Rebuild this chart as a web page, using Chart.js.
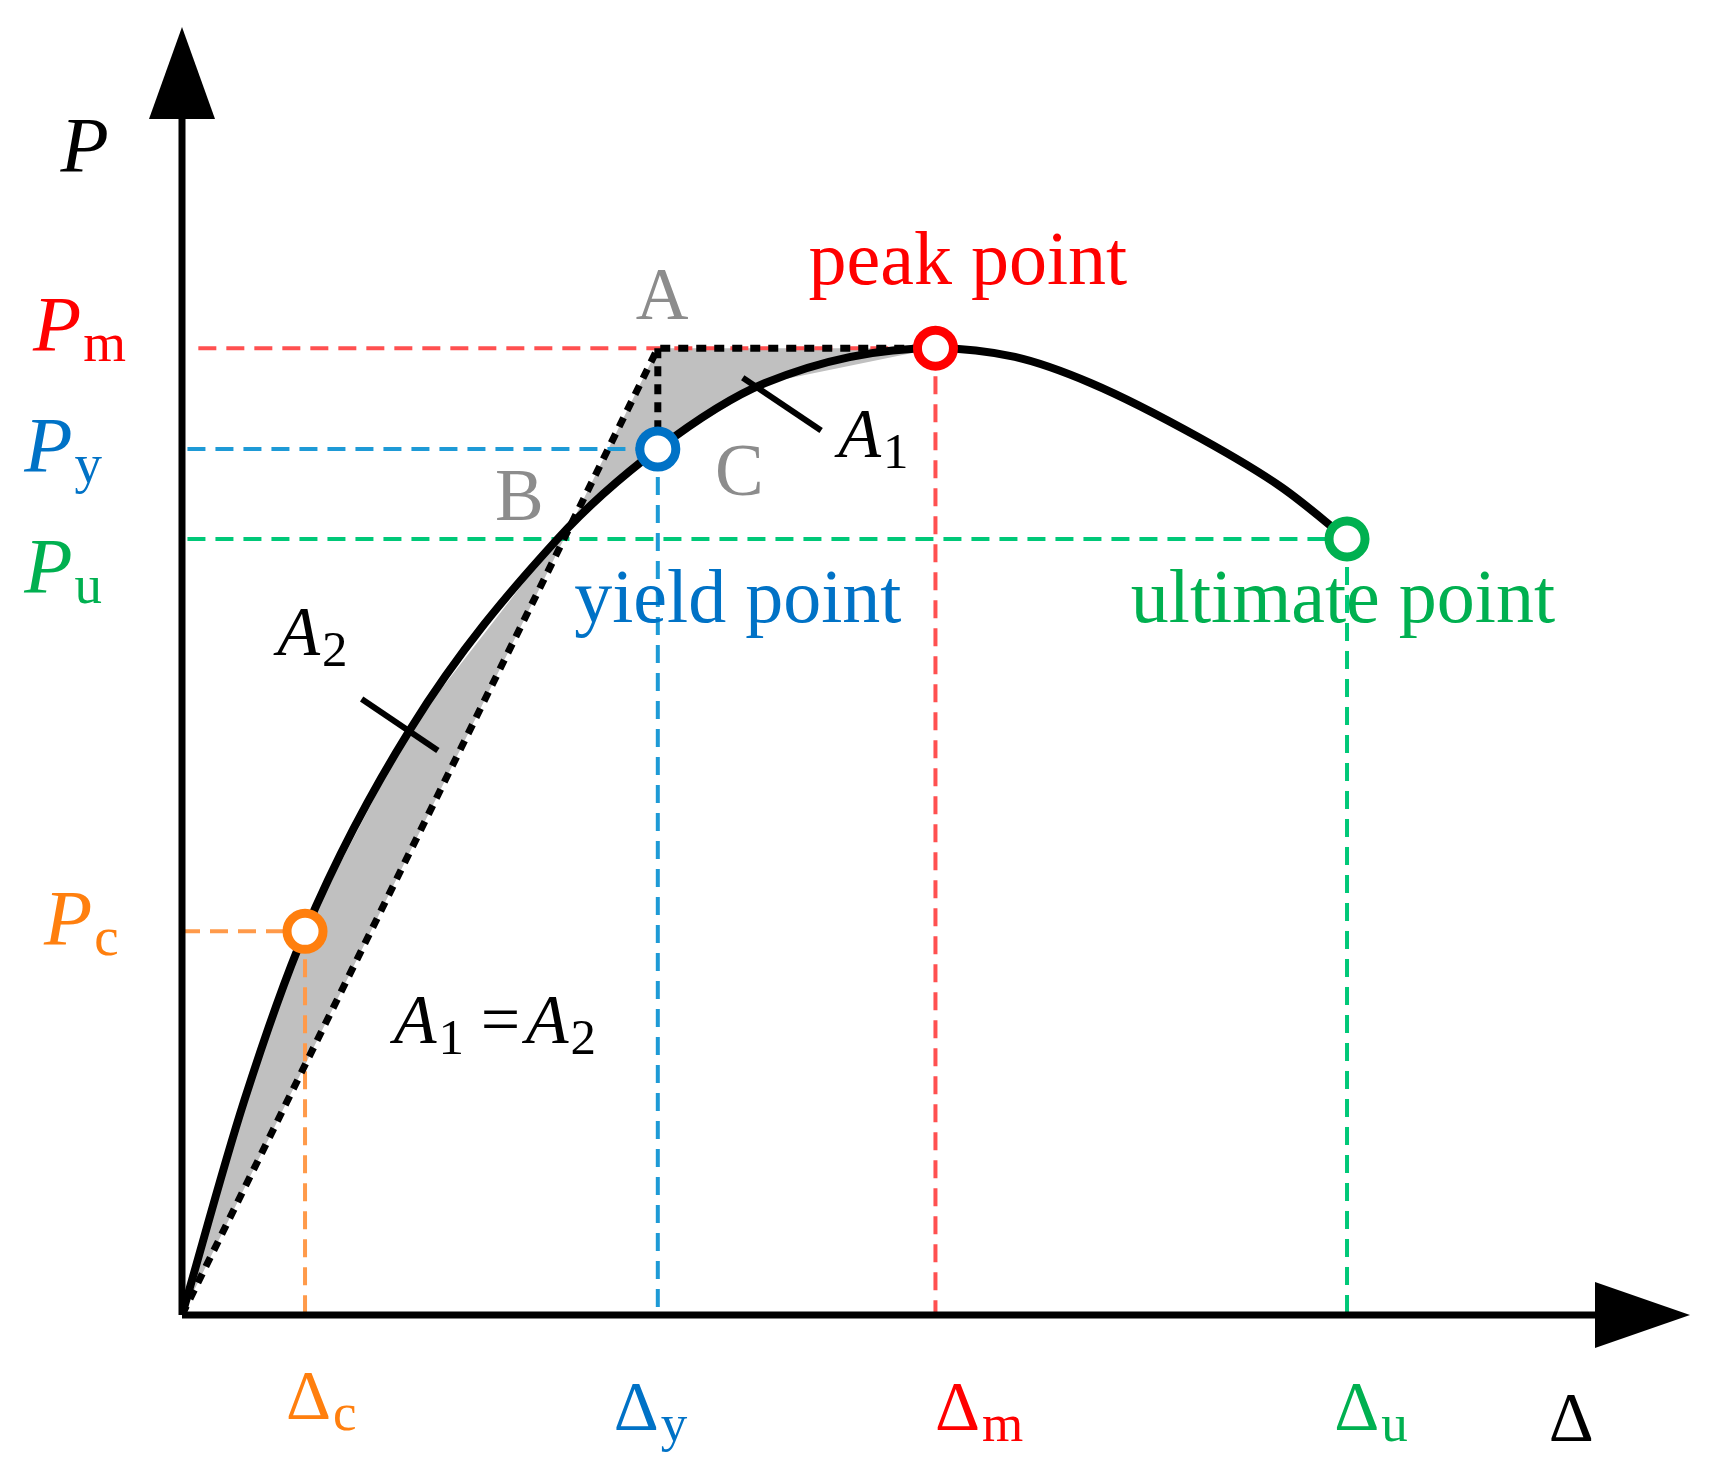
<!DOCTYPE html>
<html>
<head>
<script src="https://cdn.jsdelivr.net/npm/chart.js@4.4.0/dist/chart.umd.min.js"></script>
<style>
  body { margin: 0; background: #fff; }
  #wrap { width: 1717px; height: 1468px; }
</style>
</head>
<body>
<div id="wrap"><canvas id="myChart" width="1717" height="1468"></canvas></div>
<script>
// displacement / load values (arbitrary units)
var curveX = [0, 57, 113, 210, 345, 437, 535, 692, 765, 835, 935, 1010, 1070];
var curveY = [0, 195, 350, 535, 708, 790, 850, 882, 874, 850, 800, 755, 708];
var pointNames = ['c', 'y', 'm', 'u'];
var pointX = [113, 437, 692, 1070];
var pointY = [350, 790, 882, 708];
var pointColors = ['#ff7f0e', '#0072c6', '#ff0000', '#00b050'];
var dashColors = ['#ff9a4a', '#1e9ad6', '#ff5050', '#00c878'];
var hDashStart = [0, 5, 15, 5];
var pointA = [437, 882];
var xMax = 1385, yMax = 1175;

var S = 1.1; // picture scale
var curve = curveX.map(function(x, i){ return {x: x, y: curveY[i]}; });
var peakIdx = curveX.indexOf(pointX[2]);
var shade = curve.slice(0, peakIdx + 1).concat([{x: pointA[0], y: pointA[1]}, {x: 0, y: 0}]);

var datasets = [];
datasets.push({ data: shade, showLine: true, fill: 'shape', backgroundColor: '#c0c0c0', borderWidth: 0, pointRadius: 0, order: 5 });
for (var i = 0; i < 4; i++) {
  datasets.push({ data: [{x: hDashStart[i], y: pointY[i]}, {x: pointX[i], y: pointY[i]}], showLine: true, borderColor: dashColors[i], borderWidth: 4, borderDash: [18, 10], pointRadius: 0, order: 4 });
  datasets.push({ data: [{x: pointX[i], y: pointY[i]}, {x: pointX[i], y: 0}], showLine: true, borderColor: dashColors[i], borderWidth: 4, borderDash: [18, 10], pointRadius: 0, order: 4 });
}
datasets.push({ data: [{x: 0, y: 0}, {x: pointA[0], y: pointA[1]}, {x: pointX[2], y: pointY[2]}], showLine: true, borderColor: '#000', borderWidth: 7, borderDash: [10, 8], pointRadius: 0, order: 3 });
datasets.push({ data: [{x: pointA[0], y: pointA[1]}, {x: pointX[1], y: pointY[1]}], showLine: true, borderColor: '#000', borderWidth: 7, borderDash: [10, 8], pointRadius: 0, order: 3 });
datasets.push({ data: curve, showLine: true, borderColor: '#000', borderWidth: 8, cubicInterpolationMode: 'monotone', pointRadius: 0, order: 2 });
// leader lines
datasets.push({ data: [{x: 515, y: 855}, {x: 587, y: 807}], showLine: true, borderColor: '#000', borderWidth: 6, pointRadius: 0, order: 1 });
datasets.push({ data: [{x: 165, y: 562}, {x: 235, y: 515}], showLine: true, borderColor: '#000', borderWidth: 6, pointRadius: 0, order: 1 });
datasets.push({ data: pointX.map(function(x, i){ return {x: x, y: pointY[i]}; }), showLine: false, pointRadius: 18, pointBorderWidth: 9, pointBackgroundColor: '#fff', pointBorderColor: pointColors, order: 0 });

var labels = [
  ['P', 55, 155, 72, '#000', true, null, 0],
  ['P', 30, 318, 72, pointColors[2], true, 'm', 50],
  ['P', 22, 428, 72, pointColors[1], true, 'y', 50],
  ['P', 22, 538, 72, pointColors[3], true, 'u', 50],
  ['P', 40, 858, 72, pointColors[0], true, 'c', 50],
  ['A', 578, 290, 66, '#8c8c8c', false, null, 0],
  ['B', 450, 473, 66, '#8c8c8c', false, null, 0],
  ['C', 650, 450, 66, '#8c8c8c', false, null, 0],
  ['peak point', 735, 258, 69, pointColors[2], false, null, 0],
  ['yield point', 522, 565, 69, pointColors[1], false, null, 0],
  ['ultimate point', 1028, 565, 69, pointColors[3], false, null, 0],
  ['A', 762, 415, 64, '#000', true, '1', 46],
  ['A', 252, 595, 64, '#000', true, '2', 46],
  ['A', 358, 948, 64, '#000', true, '1', 46],
  ['=', 437, 948, 64, '#000', false, null, 0],
  ['A', 478, 948, 64, '#000', true, '2', 46],
  ['\u0394', 260, 1290, 64, pointColors[0], false, 'c', 48],
  ['\u0394', 558, 1300, 64, pointColors[1], false, 'y', 48],
  ['\u0394', 850, 1300, 64, pointColors[2], false, 'm', 48],
  ['\u0394', 1213, 1300, 64, pointColors[3], false, 'u', 48],
  ['\u0394', 1408, 1310, 64, '#000', false, null, 0]
];

var decor = {
  id: 'decor',
  afterDatasetsDraw: function(chart) {
    var c = chart.ctx, xs = chart.scales.x, ys = chart.scales.y;
    var ox = xs.getPixelForValue(0), oy = ys.getPixelForValue(0);
    var tx = xs.getPixelForValue(xMax), ty = ys.getPixelForValue(yMax);
    c.save();
    c.fillStyle = '#000'; c.strokeStyle = '#000'; c.lineWidth = 7;
    c.beginPath(); c.moveTo(ox, oy); c.lineTo(tx - 90, oy); c.stroke();
    c.beginPath(); c.moveTo(ox, oy); c.lineTo(ox, ty + 80); c.stroke();
    c.beginPath(); c.moveTo(tx, oy); c.lineTo(tx - 95, oy - 33); c.lineTo(tx - 95, oy + 33); c.closePath(); c.fill();
    c.beginPath(); c.moveTo(ox, ty); c.lineTo(ox - 33, ty + 92); c.lineTo(ox + 33, ty + 92); c.closePath(); c.fill();
    c.textBaseline = 'alphabetic'; c.textAlign = 'left';
    labels.forEach(function(l) {
      var font = (l[5] ? 'italic ' : '') + Math.round(l[3] * S) + 'px "Liberation Serif"';
      c.font = font; c.fillStyle = l[4];
      var x = l[1] * S, y = l[2] * S;
      c.fillText(l[0], x, y);
      if (l[6]) {
        var w = c.measureText(l[0]).width;
        c.font = Math.round(l[7] * S) + 'px "Liberation Serif"';
        c.fillText(l[6], x + w + 2, y + 10 * S);
      }
    });
    c.restore();
  }
};

var ctx = document.getElementById('myChart').getContext('2d');
var myChart = new Chart(ctx, {
  type: 'scatter',
  data: { datasets: datasets },
  options: {
    responsive: false,
    animation: false,
    layout: { padding: { left: 182, right: 11, top: 22, bottom: 153 } },
    plugins: { legend: { display: false }, tooltip: { enabled: false } },
    scales: {
      x: { type: 'linear', min: 0, max: xMax, display: false },
      y: { type: 'linear', min: 0, max: yMax, display: false }
    }
  },
  plugins: [decor]
});
</script>
</body>
</html>
